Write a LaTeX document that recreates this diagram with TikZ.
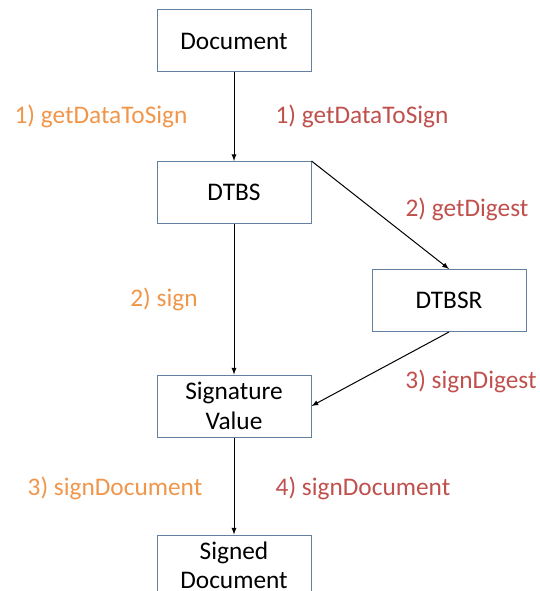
\documentclass[tikz,border=0pt]{standalone}
\usepackage{fontspec}
\setmainfont{Carlito}
\usepackage{tikz}

\definecolor{lblorange}{RGB}{240,150,75}
\definecolor{lblred}{RGB}{192,80,77}
\definecolor{boxline}{RGB}{100,128,160}

\begin{document}
\begin{tikzpicture}[x=0.75pt,y=-0.75pt,
  box/.style={draw=boxline,line width=0.75pt,minimum width=115.5pt,minimum height=46.5pt,align=center,font=\fontsize{19}{22}\selectfont},
  lbl/.style={font=\fontsize{19}{22}\selectfont},
  flow/.style={line width=0.75pt,-latex}]
  \clip (0,0) rectangle (539,591);
  % \draw[thin,gray!40] (0,0) grid[step=50] (539,591);
  \node[box] (doc) at (234,41) {Document};
  \node[box] (dtbs) at (234,192.5) {DTBS};
  \node[box] (dtbsr) at (449,300.5) {DTBSR};
  \node[box] (sigval) at (234,406) {Signature\\Value};
  \node[box,minimum height=45pt] (signed) at (234,565) {Signed\\Document};
   \draw[flow] (doc)--(dtbs);
   \draw[flow] (dtbs)--(sigval);
   \draw[flow] (dtbs.north east)--(dtbsr.north);
   \draw[flow] (dtbsr.south)--(sigval.east);
   \draw[flow] (sigval)--(signed);
  \node[lbl,lblorange] (o1) at (101,116) {1) getDataToSign};
  \node[lbl,lblred] (r1) at (362,116) {1) getDataToSign};
  \node[lbl,lblred] (r2) at (467,209) {2) getDigest};
  \node[lbl,lblorange] (o2) at (164,299) {2) sign};
  \node[lbl,lblred] (r3) at (471,381) {3) signDigest};
  \node[lbl,lblorange] (o3) at (115,488) {3) signDocument};
  \node[lbl,lblred] (r4) at (363,488) {4) signDocument};
\end{tikzpicture}
\end{document}
